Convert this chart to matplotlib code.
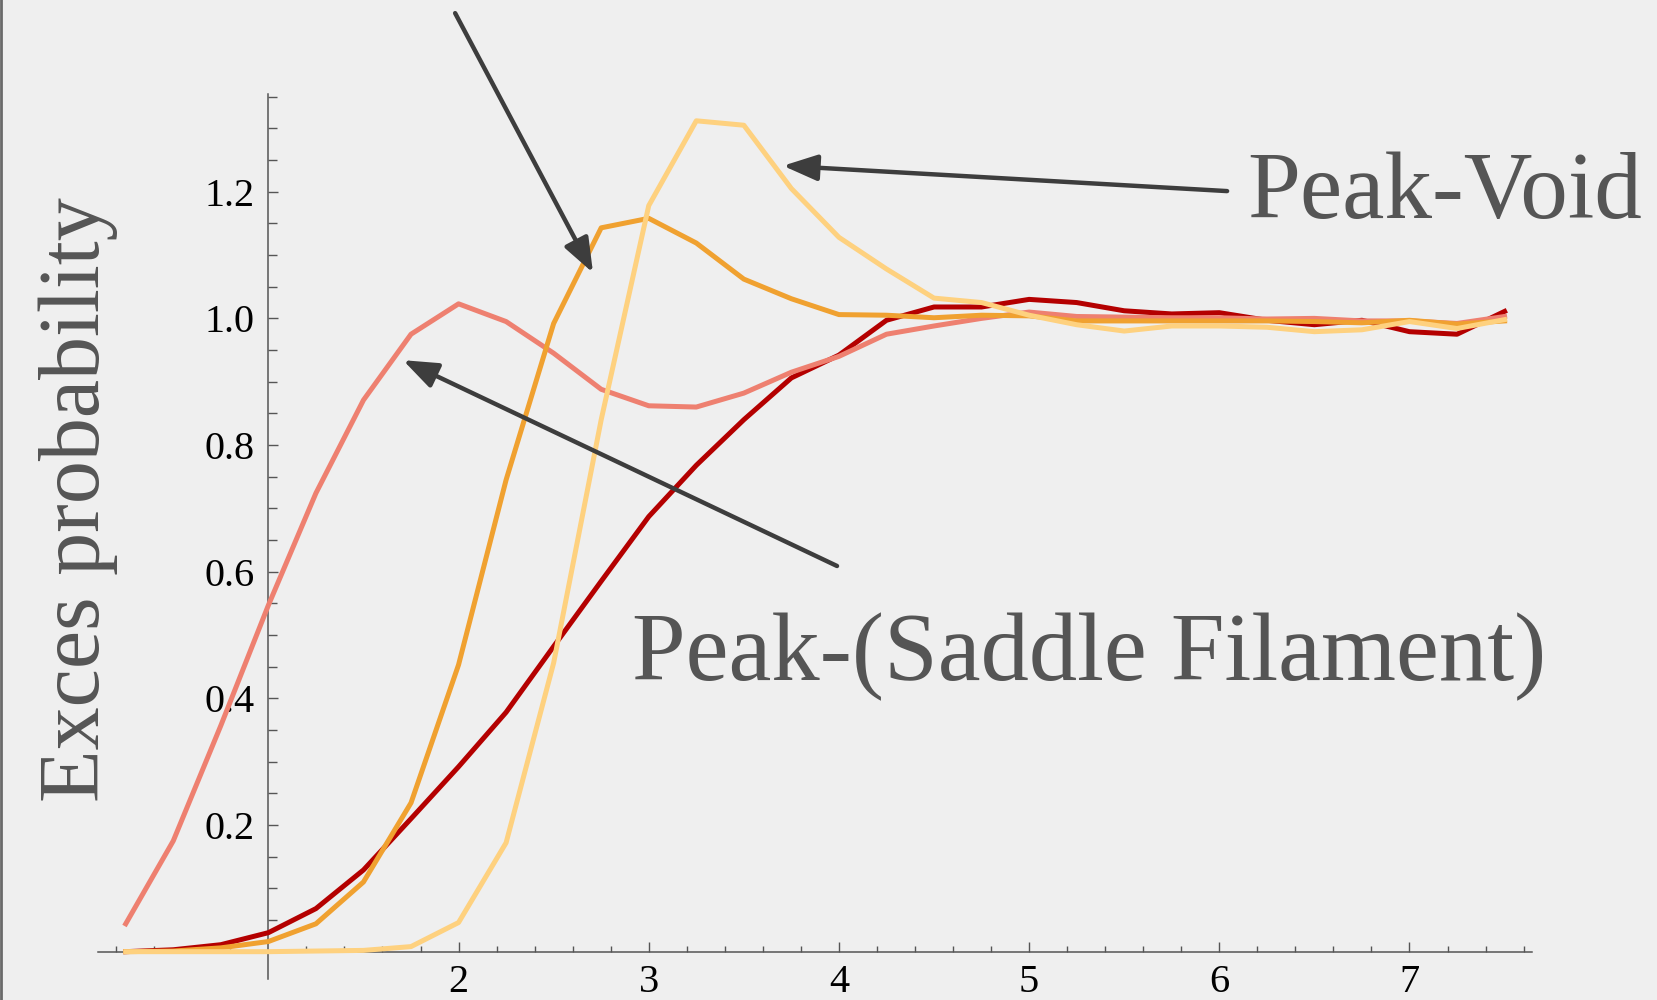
import numpy as np
import matplotlib.pyplot as plt
from matplotlib.ticker import FixedLocator

# separation bins (step 0.25)
r = [0.25, 0.5, 0.75, 1.0, 1.25, 1.5, 1.75, 2.0, 2.25, 2.5,
     2.75, 3.0, 3.25, 3.5, 3.75, 4.0, 4.25, 4.5, 4.75, 5.0,
     5.25, 5.5, 5.75, 6.0, 6.25, 6.5, 6.75, 7.0, 7.25, 7.5]

peak_peak = [0.0, 0.003, 0.011, 0.03, 0.068, 0.129, 0.21, 0.292, 0.378, 0.482,
             0.585, 0.687, 0.768, 0.84, 0.906, 0.942, 0.997, 1.018, 1.018, 1.03,
             1.025, 1.012, 1.007, 1.009, 0.997, 0.99, 0.997, 0.979, 0.975, 1.011]

peak_saddle = [0.044, 0.175, 0.357, 0.547, 0.724, 0.871, 0.975, 1.023, 0.995, 0.945,
               0.888, 0.862, 0.86, 0.882, 0.915, 0.94, 0.975, 0.988, 1.0, 1.01,
               1.003, 1.002, 1.001, 1.001, 0.999, 1.0, 0.996, 0.996, 0.992, 1.003]

peak_filament = [0.0, 0.001, 0.006, 0.016, 0.044, 0.11, 0.235, 0.453, 0.745, 0.992,
                 1.143, 1.158, 1.119, 1.062, 1.031, 1.006, 1.005, 1.001, 1.005, 1.004,
                 0.996, 0.996, 0.996, 0.996, 0.996, 0.995, 0.993, 0.997, 0.991, 0.996]

peak_void = [0.0, 0.0, 0.0, 0.0, 0.001, 0.002, 0.008, 0.046, 0.172, 0.456,
             0.84, 1.178, 1.312, 1.305, 1.205, 1.128, 1.078, 1.032, 1.025, 1.005,
             0.99, 0.98, 0.988, 0.988, 0.986, 0.979, 0.982, 0.995, 0.984, 0.998]

x_ticks = [2, 3, 4, 5, 6, 7]
y_ticks = [0.2, 0.4, 0.6, 0.8, 1.0, 1.2]

serif = 'Liberation Serif'
bg = '#efefef'
ink = '#3d3d3d'
label_grey = '#555555'

fig = plt.figure(figsize=(16.58, 10), dpi=100)
fig.patch.set_facecolor(bg)
ax = fig.add_axes([0.0592, 0.0211, 0.8649, 0.8847])
ax.set_facecolor('none')

lw = 3.6
ax.plot(r, peak_peak, color='#b40000', lw=lw, zorder=3)
ax.plot(r, peak_saddle, color='#ee8070', lw=lw, zorder=3)
ax.plot(r, peak_filament, color='#f0a130', lw=lw, zorder=4)
ax.plot(r, peak_void, color='#fed17f', lw=lw, zorder=5)

ax.set_xlim(0.105, 7.645)
ax.set_ylim(-0.043, 1.354)

# axes cross at (1, 0)
for s in ['top', 'right']:
    ax.spines[s].set_visible(False)
ax.spines['left'].set_position(('data', 1.0))
ax.spines['bottom'].set_position(('data', 0.0))
for s in ['left', 'bottom']:
    ax.spines[s].set_color('#555555')
    ax.spines[s].set_linewidth(1.1)

ax.set_xticks(x_ticks)
ax.set_xticklabels([str(t) for t in x_ticks])
ax.set_yticks(y_ticks)
ax.set_yticklabels(['%.1f' % t for t in y_ticks])
xminor = [round(v, 2) for v in np.arange(0.2, 7.61, 0.2) if abs(v - round(v)) > 1e-6]
yminor = [round(v, 2) for v in np.arange(0.05, 1.351, 0.05) if abs(v * 5 - round(v * 5)) > 1e-6]
ax.xaxis.set_minor_locator(FixedLocator(xminor))
ax.yaxis.set_minor_locator(FixedLocator(yminor))

ax.tick_params(axis='both', which='both', direction='in', color='#555555', width=1.0)
ax.tick_params(axis='x', which='major', length=7.5, pad=9, labelsize=29)
ax.tick_params(axis='x', which='minor', length=4.5)
ax.tick_params(axis='y', which='major', length=7.5, pad=10, labelsize=29)
ax.tick_params(axis='y', which='minor', length=6.5)
for lab in ax.get_xticklabels() + ax.get_yticklabels():
    lab.set_fontfamily(serif)
    lab.set_color('black')

fig.text(0.047, 0.5, 'Exces probability', rotation=90, ha='center', va='center',
         fontsize=62, family=serif, color=label_grey)

arrow = dict(arrowstyle='-|>,head_length=1.0,head_width=0.38', mutation_scale=21,
             lw=3.2, color=ink, shrinkA=0, shrinkB=0)

# arrow pointing at the filament curve (its label sits off the top)
ax.annotate('', xy=(2.707, 1.072), xytext=(1.982, 1.482), arrowprops=arrow,
            annotation_clip=False, zorder=6)
ax.annotate('', xy=(3.706, 1.241), xytext=(6.041, 1.201), arrowprops=arrow,
            annotation_clip=False, zorder=6)
ax.annotate('', xy=(1.708, 0.934), xytext=(3.990, 0.609), arrowprops=arrow,
            annotation_clip=False, zorder=6)

ax.text(6.146, 1.1585, 'Peak-Void', ha='left', va='baseline', fontsize=68.5,
        family=serif, color=label_grey, clip_on=False)
ax.text(2.912, 0.429, 'Peak-(Saddle Filament)', ha='left', va='baseline', fontsize=69.5,
        family=serif, color=label_grey, clip_on=False)

# thin dark edge along the left border
fig.add_artist(plt.Line2D([0.0008, 0.0008], [0, 1], transform=fig.transFigure,
                          color='#6a6a6a', lw=2))

fig.savefig('out.png', dpi=100, facecolor=bg)
